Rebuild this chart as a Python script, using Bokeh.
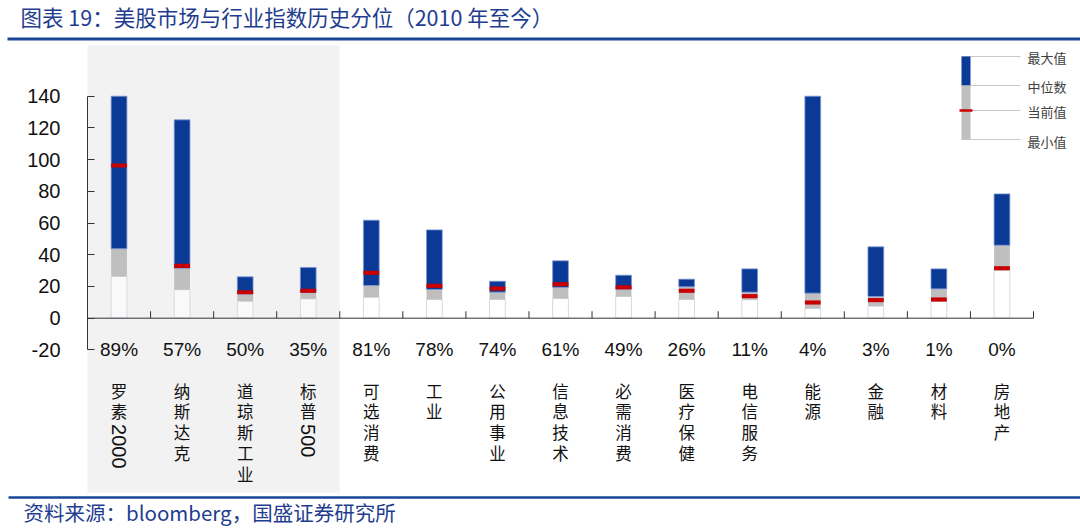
import math
from bokeh.plotting import figure
from bokeh.models import Range1d, LinearAxis, FixedTicker, ColumnDataSource
from bokeh.core.properties import value
from bokeh.embed import file_html
from bokeh.resources import INLINE

# ---------------- data ----------------
categories = ["罗素2000", "纳斯达克", "道琼斯工业", "标普500", "可选消费", "工业", "公用事业",
              "信息技术", "必需消费", "医疗保健", "电信服务", "能源", "金融", "材料", "房地产"]
percentiles = ["89%", "57%", "50%", "35%", "81%", "78%", "74%", "61%", "49%", "26%",
               "11%", "4%", "3%", "1%", "0%"]
min_vals = [26.3, 18.0, 10.7, 12.2, 13.2, 11.8, 11.8, 12.4, 13.7, 11.8, 11.6, 6.1, 7.6, 10.5, 30.3]
median_vals = [43.8, 31.5, 15.3, 16.3, 20.6, 18.1, 16.4, 19.4, 18.3, 19.8, 16.4, 15.8, 13.7, 18.5, 46.0]
max_vals = [140.0, 125.1, 26.1, 32.0, 61.8, 55.7, 23.3, 36.2, 27.1, 24.6, 31.1, 140.0, 45.0, 31.1, 78.4]
current_vals = [96.3, 33.0, 16.4, 17.3, 28.6, 20.4, 18.7, 21.4, 19.5, 17.3, 13.9, 9.9, 11.4, 11.8, 31.5]
y_ticks = [-20, 0, 20, 40, 60, 80, 100, 120, 140]
legend_labels = ["最大值", "中位数", "当前值", "最小值"]
title_text = "图表 19：美股市场与行业指数历史分位（2010 年至今）"
source_text = "资料来源：bloomberg，国盛证券研究所"

# ---------------- layout helpers (page pixel -> data) ----------------
W, H = 1080, 529
X0_PX, X_PX = 87.0, 63.067
Y0_PX, Y_PX = 317.7, 1.5857


def dx(px):
    return (px - X0_PX) / X_PX


def dy(py):
    return (Y0_PX - py) / Y_PX


BLUE = "#0b3a96"
GRAY = "#bfbfbf"
RED = "#c80000"
NAVY = "#1f3d8f"
AXIS = "#333333"
CJK = value("Noto Sans CJK SC")
LAT = value("Liberation Sans")

p = figure(width=W, height=H,
           x_range=Range1d(dx(0), dx(W)),
           y_range=Range1d(dy(H), dy(0)),
           output_backend="svg", toolbar_location=None,
           x_axis_location=None, y_axis_location=None, min_border=0)
p.outline_line_color = None
p.grid.visible = False
p.background_fill_color = "white"
p.border_fill_color = "white"

n = len(categories)
xs = [i + 0.5 for i in range(n)]

# shaded region behind the four broad indices
p.quad(left=0, right=4, bottom=dy(492), top=dy(45), fill_color="#f2f2f2", line_color=None)

src = ColumnDataSource(dict(
    x=xs, mn=min_vals, md=median_vals, mx=max_vals,
    cl=[c - 1.3 for c in current_vals], ch=[c + 1.3 for c in current_vals],
    pct=percentiles, y_pct=[-20] * n,
))
BW = 0.25
p.vbar(x="x", width=BW, bottom=0, top="mn", source=src, fill_color="white", fill_alpha=0.55,
       line_color="#d3d9e6", line_width=1)
p.vbar(x="x", width=BW, bottom="mn", top="md", source=src, fill_color=GRAY, line_color=None)
p.vbar(x="x", width=BW, bottom="md", top="mx", source=src, fill_color=BLUE,
       line_color="#7d98d0", line_width=0.8)
p.vbar(x="x", width=BW, bottom="cl", top="ch", source=src, fill_color=RED, line_color=None)

# y axis (library axis, placed at x = 0)
yaxis = LinearAxis(fixed_location=0, bounds=(y_ticks[0], y_ticks[-1]),
                   ticker=FixedTicker(ticks=y_ticks))
yaxis.major_tick_in = 7
yaxis.major_tick_out = 0
yaxis.minor_tick_in = 0
yaxis.minor_tick_out = 0
yaxis.axis_line_color = AXIS
yaxis.major_tick_line_color = AXIS
yaxis.major_label_standoff = 27
yaxis.major_label_text_font = "Liberation Sans"
yaxis.major_label_text_font_size = "20px"
yaxis.major_label_text_color = "#111111"
yaxis.major_label_overrides = {t: str(t) for t in y_ticks}
p.add_layout(yaxis, "left")

# category axis line at y = 0 with boundary ticks pointing up
tick_h = 7 / Y_PX
p.segment(x0=[0], x1=[n], y0=[0], y1=[0], line_color=AXIS, line_width=1)
p.segment(x0=list(range(1, n + 1)), x1=list(range(1, n + 1)), y0=[0] * n, y1=[tick_h] * n,
          line_color=AXIS, line_width=1)

# percentile labels
p.text(x="x", y="y_pct", text="pct", source=src, text_align="center", text_baseline="middle",
       text_font=LAT, text_font_size="19px", text_color="#111111")

# vertical category labels: one character per row, digits rotated
LINE = 20.8
TOP = 390.0
cx, cy, ct = [], [], []
nx, ny, nt = [], [], []
for i, c in enumerate(categories):
    han = [ch for ch in c if not ch.isdigit()]
    num = "".join(ch for ch in c if ch.isdigit())
    for k, ch in enumerate(han):
        cx.append(xs[i])
        cy.append(dy(TOP + k * LINE))
        ct.append(ch)
    if num:
        nx.append(xs[i])
        ny.append(dy(TOP - 9 + len(han) * LINE + 1))
        nt.append(num)
p.text(x=cx, y=cy, text=ct, text_align="center", text_baseline="middle",
       text_font=CJK, text_font_size="16.5px", text_color="#111111")
p.text(x=nx, y=ny, text=nt, angle=-math.pi / 2, text_align="left",
       text_baseline="middle", text_font=LAT, text_font_size="20px", text_color="#111111")

# legend (drawn)
lx = dx(965.5)
lw = 9 / X_PX
p.segment(x0=[dx(961)] * 4, x1=[dx(1020)] * 4,
          y0=[dy(56), dy(85), dy(110), dy(139)], y1=[dy(56), dy(85), dy(110), dy(139)],
          line_color="#c9c9c9", line_width=1)
p.vbar(x=[lx], width=lw, bottom=dy(85), top=dy(56), fill_color=BLUE, line_color=None)
p.vbar(x=[lx], width=lw, bottom=dy(139), top=dy(85), fill_color=GRAY, line_color=None)
p.vbar(x=[lx], width=13 / X_PX, bottom=dy(111.3), top=dy(108.7), fill_color=RED, line_color=None)
p.text(x=[dx(1027)] * 4, y=[dy(57), dy(86), dy(111), dy(141)], text=legend_labels,
       text_align="left", text_baseline="middle", text_font=CJK, text_font_size="13px",
       text_color="#404040")

# title and source
p.segment(x0=[dx(7)], x1=[dx(1085)], y0=[dy(38.5)], y1=[dy(38.5)], line_color="#1a4698", line_width=3)
p.text(x=[dx(20)], y=[dy(16)], text=[title_text], text_align="left", text_baseline="middle",
       text_font=CJK, text_font_size="21.5px", text_color=NAVY)
p.segment(x0=[dx(8)], x1=[dx(1085)], y0=[dy(497)], y1=[dy(497)], line_color="#1a4698", line_width=2.5)
p.text(x=[dx(23)], y=[dy(511)], text=[source_text], text_align="left", text_baseline="middle",
       text_font=CJK, text_font_size="20.5px", text_color=NAVY)

open("out.html", "w").write(file_html(p, INLINE))
